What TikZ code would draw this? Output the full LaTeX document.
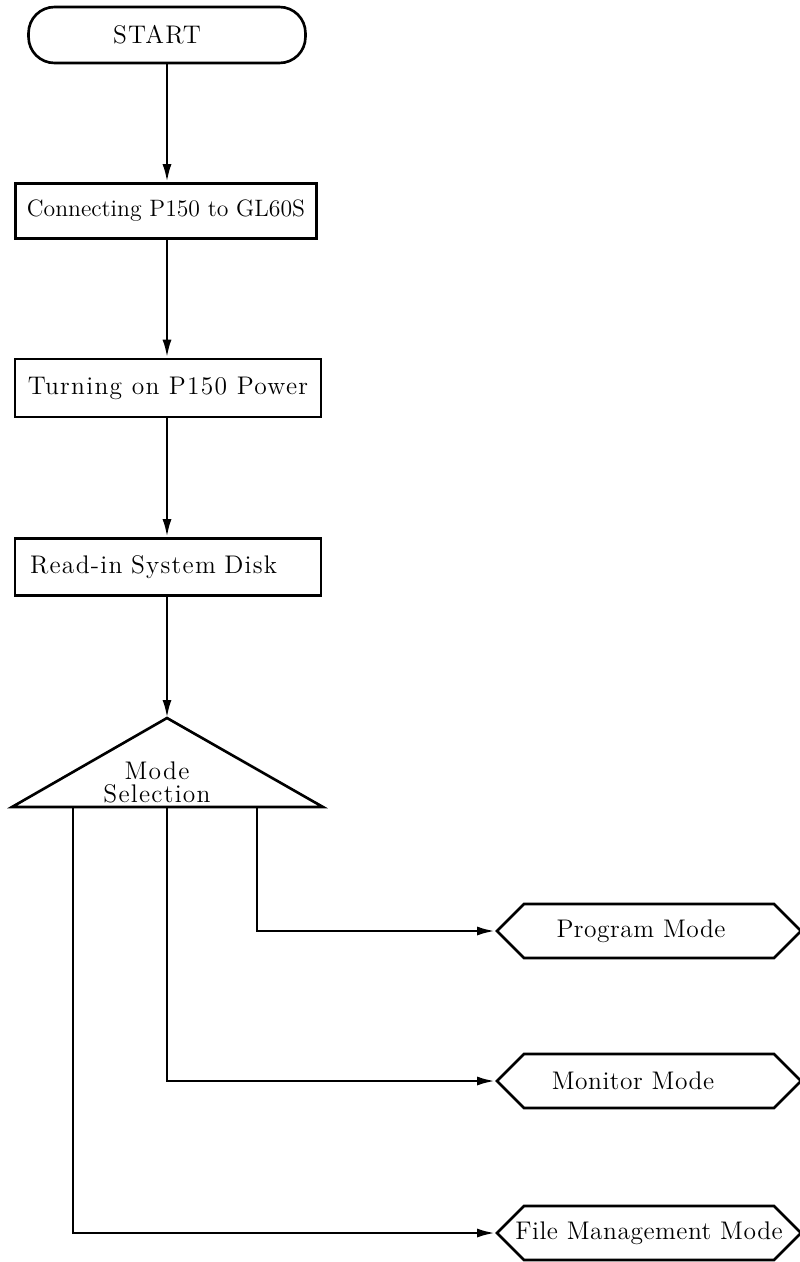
\documentclass[tikz,border=0pt]{standalone}
\usepackage{fontspec}
\setmainfont{lmroman12-regular.otf}
\usepackage{tikz}
\usetikzlibrary{shapes.symbols, arrows.meta}

\tikzset{
  flowtext/.style={font=\fontsize{14.5}{13}\selectfont\addfontfeatures{LetterSpace=5}},
  procbox/.style={rectangle, draw, line width=1.5pt, flowtext,
                  inner sep=0pt, minimum height=1.14cm},
  termbox/.style={procbox, rounded corners=0.52cm},
  modebox/.style={signal, signal to=west and east, signal pointer angle=90,
                  draw, line width=1.5pt, fill=white,
                  font=\fontsize{14.5}{17}\selectfont\addfontfeatures{LetterSpace=2},
                  minimum width=6.08cm, minimum height=1.08cm,
                  inner ysep=0pt, inner xsep=-0.4cm},
  flowline/.style={line width=1.5pt, -{Latex[length=3.6mm,width=1.8mm]}}
}

\begin{document}
\begin{tikzpicture}[x=0.02cm, y=-0.02cm]
    \useasboundingbox (0,0) rectangle (799,1262);

    % main sequence
    \node[termbox, minimum width=5.54cm, minimum height=1.12cm] (start) at (167,35) {START\kern0.4cm};
    \node[procbox, minimum width=6.02cm, minimum height=1.1cm,
          font=\fontsize{13.5}{16}\selectfont] (conn) at (166,211) {Connecting P150 to GL60S};
    \node[procbox, minimum width=6.12cm, minimum height=1.16cm] (turn) at (168,388) {Turning on P150 Power};
    \node[procbox, minimum width=6.12cm, inner xsep=0.3cm, text width=5.52cm,
          align=left] (read) at (168,567) {Read-in System Disk};

    % mode selection triangle
    \coordinate (apex) at (167,718);
    \coordinate (selL) at (12,807);
    \coordinate (selR) at (323,807);
    \draw[line width=1.5pt] (selL) -- (apex) -- (selR) -- cycle;
    \node[flowtext, align=center, inner sep=0pt] (sel) at (157,782) {Mode\\Selection};
    \coordinate (outL) at (73,807);
    \coordinate (outM) at (167,807);
    \coordinate (outR) at (257,807);

    % the three modes
    \node[modebox] (prog) at (649,931) {Program Mode\kern0.32cm};
    \node[modebox] (mon) at (649,1081) {Monitor Mode\kern0.64cm};
    \node[modebox] (fmm) at (649,1233) {File Management Mode};

    \draw[flowline] (start) -- (start |- conn.north);
    \draw[flowline] (conn.south -| apex) -- (apex |- turn.north);
    \draw[flowline] (turn.south -| apex) -- (apex |- read.north);
    \draw[flowline] (read.south -| apex) -- (apex);

    \draw[flowline] (outR) |- (prog.west);
    \draw[flowline] (outM) |- (mon.west);
    \draw[flowline] (outL) |- (fmm.west);
\end{tikzpicture}
\end{document}
